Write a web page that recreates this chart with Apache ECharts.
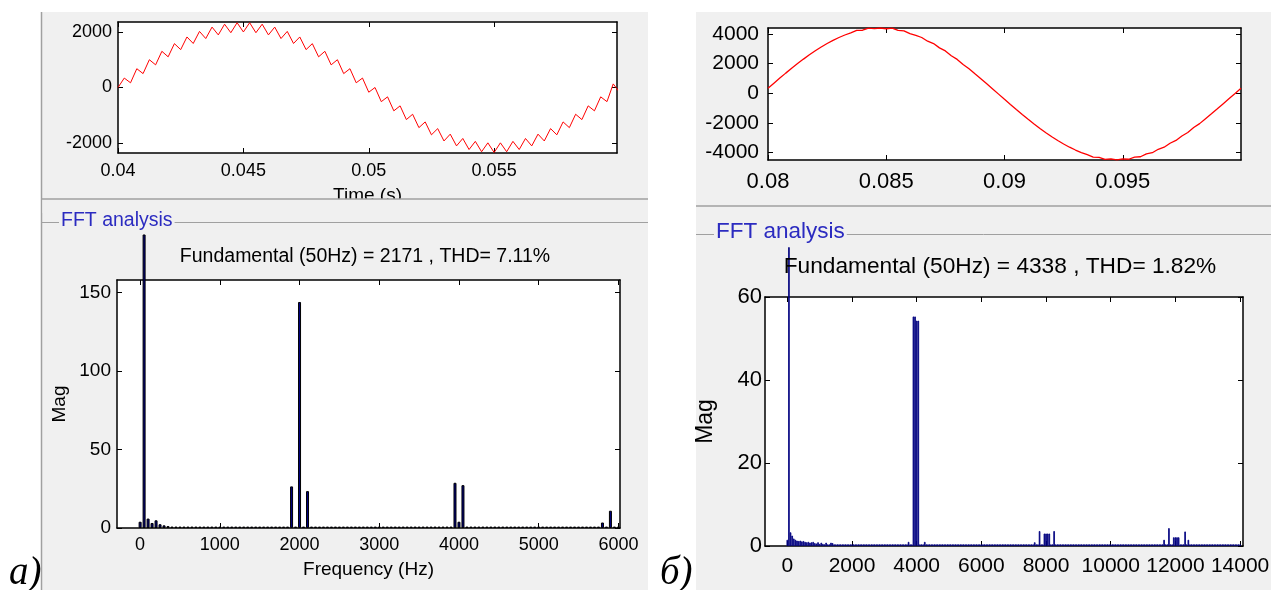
<!DOCTYPE html>
<html><head><meta charset="utf-8">
<script src="https://cdn.jsdelivr.net/npm/echarts@6/dist/echarts.min.js"></script>
<style>html,body{margin:0;padding:0;background:#fff}#c{width:1271px;height:590px}</style>
</head><body><div id="c"></div>
<script>
// ---------------- DATA ----------------
// (a) time waveform: samples every 0.25 ms starting at 0.04 s
const waveA_t0 = 0.04, waveA_dt = 0.00025;
const waveA_values = [
  0, 340, 170, 677, 501, 1001, 816, 1304, 1106, 1580,
  1365, 1821, 1586, 2021, 1764, 2176, 1895, 2281, 1974, 2334,
  2001, 2334, 1974, 2281, 1895, 2176, 1764, 2021, 1586, 1821,
  1365, 1580, 1106, 1304, 816, 1001, 501, 677, 170, 340,
  -170, 0, -510, -337, -841, -661, -1156, -964, -1446, -1240,
  -1705, -1481, -1926, -1681, -2104, -1836, -2235, -1941, -2314, -1994,
  -2341, -1994, -2314, -1941, -2235, -1836, -2104, -1681, -1926, -1481,
  -1705, -1240, -1446, -964, -1156, -661, -841, -337, -510, 130,
  -170
];
// (б) time waveform: samples every 0.25 ms starting at 0.08 s
const waveB_t0 = 0.08, waveB_dt = 0.00025;
const waveB_values = [
  331, 676, 1017, 1351, 1677, 1992, 2295, 2583, 2855, 3109,
  3344, 3558, 3749, 3918, 4062, 4230, 4240, 4380, 4350, 4390,
  4340, 4380, 4230, 4200, 4010, 3897, 3750, 3500, 3340, 3050,
  2845, 2520, 2275, 1935, 1650, 1307, 972, 630, 284, -63,
  -411, -756, -1097, -1431, -1757, -2072, -2375, -2663, -2935, -3189,
  -3424, -3638, -3829, -3998, -4142, -4300, -4330, -4460, -4430, -4490,
  -4420, -4450, -4310, -4280, -4090, -4010, -3780, -3640, -3370, -3180,
  -2880, -2650, -2315, -2050, -1714, -1387, -1052, -710, -364, -17,
  331
];
// FFT magnitudes, one per harmonic, 50 Hz apart starting at 0 Hz
const fftA_step = 50;
const fftA_mag = [
  4, 187, 6, 3.2, 4.9, 2.4, 1.7, 1.2, 0.9, 0.9,
  0.9, 0.9, 0.9, 0.9, 0.9, 0.9, 0.9, 0.9, 0.9, 0.9,
  0.9, 0.9, 0.9, 0.9, 0.9, 0.9, 0.9, 0.9, 0.9, 0.9,
  0.9, 0.9, 0.9, 0.9, 0.9, 0.9, 0.9, 0.9, 26.5, 0.9,
  144, 0.9, 23.5, 0.9, 0.9, 0.9, 0.9, 0.9, 0.9, 0.9,
  0.9, 0.9, 0.9, 0.9, 0.9, 0.9, 0.9, 0.9, 0.9, 0.9,
  0.9, 0.9, 0.9, 0.9, 0.9, 0.9, 0.9, 0.9, 0.9, 0.9,
  0.9, 0.9, 0.9, 0.9, 0.9, 0.9, 0.9, 0.9, 0.9, 28.8,
  4, 27.3, 0.9, 0.9, 0.9, 0.9, 0.9, 0.9, 0.9, 0.9,
  0.9, 0.9, 0.9, 0.9, 0.9, 0.9, 0.9, 0.9, 0.9, 0.9,
  0.9, 0.9, 0.9, 0.9, 0.9, 0.9, 0.9, 0.9, 0.9, 0.9,
  0.9, 0.9, 0.9, 0.9, 0.9, 0.9, 3.5, 0.9, 11, 0.9,
  0.9
];
const fftB_step = 50;
const fftB_mag = [
  1.5, 72, 3.3, 2.5, 1.8, 1.5, 1.3, 1.2, 1.3, 1.1, 1.2, 1.0, 0.9, 1.0, 0.8, 0.9, 1.0, 0.7, 0.6, 0.9,
  0.5, 0.8, 0.5, 0.4, 0.8, 0.4, 0.4, 0.8, 0.7, 0.4, 0.4, 0.4, 0.4, 0.4, 0.4, 0.4, 0.4, 0.4, 0.4, 0.4,
  0.4, 0.4, 0.4, 0.4, 0.4, 0.4, 0.4, 0.4, 0.4, 0.4, 0.4, 0.4, 0.4, 0.4, 0.4, 0.4, 0.4, 0.4, 0.4, 0.4,
  0.4, 0.4, 0.4, 0.4, 0.4, 0.4, 0.4, 0.4, 0.4, 0.4, 0.4, 0.4, 0.4, 0.4, 0.4, 1.0, 0.4, 0.4, 55.3, 55.3,
  54.3, 54.3, 0.4, 0.4, 0.4, 1.0, 0.4, 0.4, 0.4, 0.4, 0.4, 0.4, 0.4, 0.4, 0.4, 0.4, 0.4, 0.4, 0.4, 0.4,
  0.4, 0.4, 0.4, 0.4, 0.4, 0.4, 0.4, 0.4, 0.4, 0.4, 0.4, 0.4, 0.4, 0.4, 0.4, 0.4, 0.4, 0.4, 0.4, 0.4,
  0.4, 0.4, 0.4, 0.4, 0.4, 0.4, 0.4, 0.4, 0.4, 0.4, 0.4, 0.4, 0.4, 0.4, 0.4, 0.4, 0.4, 0.4, 0.4, 0.4,
  0.4, 0.4, 0.4, 0.4, 0.4, 0.4, 0.4, 0.4, 0.4, 0.4, 0.4, 0.4, 0.4, 0.9, 0.4, 0.4, 3.6, 0.4, 0.4, 3.0,
  3.0, 3.0, 3.0, 0.4, 0.4, 3.6, 0.4, 0.4, 0.4, 0.4, 0.4, 0.4, 0.4, 0.4, 0.4, 0.4, 0.4, 0.4, 0.4, 0.4,
  0.4, 0.4, 0.4, 0.4, 0.4, 0.4, 0.4, 0.4, 0.4, 0.4, 0.4, 0.4, 0.4, 0.4, 0.4, 0.4, 0.4, 0.4, 0.4, 0.4,
  0.4, 0.4, 0.4, 0.4, 0.4, 0.4, 0.4, 0.4, 0.4, 0.4, 0.4, 0.4, 0.4, 0.4, 0.4, 0.4, 0.4, 0.4, 0.4, 0.4,
  0.4, 0.4, 0.4, 0.4, 0.4, 0.4, 0.4, 0.4, 0.4, 0.4, 0.4, 0.4, 0.4, 1.5, 0.4, 0.4, 4.3, 0.4, 0.4, 2.1,
  2.1, 2.1, 2.1, 0.4, 0.4, 0.4, 3.5, 0.4, 1.5, 0.4, 0.4, 0.4, 0.4, 0.4, 0.4, 0.4, 0.4, 0.4, 0.4, 0.4,
  0.4, 0.4, 0.4, 0.4, 0.4, 0.4, 0.4, 0.4, 0.4, 0.4, 0.4, 0.4, 0.4, 0.4, 0.4, 0.4, 0.4, 0.4, 0.4, 0.4,
  0.4
];
// tick labels
const ticksA_time = [0.04, 0.045, 0.05, 0.055];
const ticksA_wave = [-2000, 0, 2000];
const ticksA_freq = [0, 1000, 2000, 3000, 4000, 5000, 6000];
const ticksA_mag = [0, 50, 100, 150];
const ticksB_time = [0.08, 0.085, 0.09, 0.095];
const ticksB_wave = [-4000, -2000, 0, 2000, 4000];
const ticksB_freq = [0, 2000, 4000, 6000, 8000, 10000, 12000, 14000];
const ticksB_mag = [0, 20, 40, 60];
// texts
const titleA = 'Fundamental (50Hz) = 2171 , THD= 7.11%';
const titleB = 'Fundamental (50Hz) = 4338 , THD= 1.82%';
const panelTitle = 'FFT analysis';
const labelA = 'а)', labelB = 'б)';

// ---------------- CHART ----------------
const FONT = "'Liberation Sans', Arial, Helvetica, sans-serif";
const SERIF = "'Liberation Serif', 'Times New Roman', serif";
const waveA = waveA_values.map((v, i) => [waveA_t0 + i * waveA_dt, v]);
const waveB = waveB_values.map((v, i) => [waveB_t0 + i * waveB_dt, v]);
const fftA = fftA_mag.map((v, i) => [i * fftA_step, v]);
const fftB = fftB_mag.map((v, i) => [i * fftB_step, v]);

function ax(kind, gi, pos, min, max, ticks, labelOn, fs, margin, name, nameGap, nameFs) {
  const a = {
    type: 'value', gridIndex: gi, position: pos, min: min, max: max,
    axisLine: { show: true, onZero: false, lineStyle: { color: '#000', width: 1.5 } },
    axisTick: { show: true, inside: true, length: 5, customValues: ticks, lineStyle: { color: '#000', width: 1 } },
    axisLabel: { show: labelOn, customValues: ticks, formatter: v => String(v), fontSize: fs, color: '#000', fontFamily: FONT, margin: margin },
    splitLine: { show: false }
  };
  if (name) {
    a.name = name; a.nameLocation = 'middle'; a.nameGap = nameGap;
    a.nameTextStyle = { fontSize: nameFs, color: '#000', fontFamily: FONT };
    if (kind === 'y') a.nameRotate = 90;
  }
  return a;
}

const grids = [
  { left: 118, top: 22, width: 499, height: 131 },
  { left: 117, top: 280, width: 503, height: 248 },
  { left: 768, top: 28, width: 473, height: 132 },
  { left: 765, top: 297, width: 478, height: 249 }
].map(g => Object.assign(g, { show: true, backgroundColor: '#fff', borderWidth: 0, containLabel: false, outerBoundsMode: 'none' }));

const xAxes = [
  ax('x', 0, 'bottom', 0.04, 0.0599, ticksA_time, true, 18, 9, 'Time (s)', 33, 19),
  ax('x', 0, 'top', 0.04, 0.0599, ticksA_time, false),
  ax('x', 1, 'bottom', -290, 6020, ticksA_freq, true, 18, 8, 'Frequency (Hz)', 32, 19),
  ax('x', 1, 'top', -290, 6020, ticksA_freq, false),
  ax('x', 2, 'bottom', 0.08, 0.1, ticksB_time, true, 22, 11),
  ax('x', 2, 'top', 0.08, 0.1, ticksB_time, false),
  ax('x', 3, 'bottom', -690, 14090, ticksB_freq, true, 21, 10),
  ax('x', 3, 'top', -690, 14090, ticksB_freq, false)
];
const yAxes = [
  ax('y', 0, 'left', -2360, 2360, ticksA_wave, true, 18, 6),
  ax('y', 0, 'right', -2360, 2360, ticksA_wave, false),
  ax('y', 1, 'left', 0, 158, ticksA_mag, true, 19, 6, 'Mag', 48, 19),
  ax('y', 1, 'right', 0, 158, ticksA_mag, false),
  ax('y', 2, 'left', -4500, 4390, ticksB_wave, true, 21, 9),
  ax('y', 2, 'right', -4500, 4390, ticksB_wave, false),
  ax('y', 3, 'left', 0, 60, ticksB_mag, true, 22, 3, 'Mag', 48, 23),
  ax('y', 3, 'right', 0, 60, ticksB_mag, false)
];

const G = '#f0f0f0', EDGE = '#a0a0a0';
const graphics = [
  { type: 'rect', z: -100, silent: true, shape: { x: 41, y: 12, width: 607, height: 578 }, style: { fill: G } },
  { type: 'rect', z: -100, silent: true, shape: { x: 696, y: 12, width: 575, height: 578 }, style: { fill: G } },
  { type: 'line', z: -90, silent: true, shape: { x1: 41.5, y1: 12, x2: 41.5, y2: 590 }, style: { stroke: EDGE, lineWidth: 1.5 } },
  // cover under the top panel (hides lower part of the "Time (s)" name)
  { type: 'rect', z: 100, silent: true, shape: { x: 42.5, y: 199, width: 605.5, height: 14 }, style: { fill: G } },
  { type: 'line', z: 101, silent: true, shape: { x1: 42, y1: 199, x2: 648, y2: 199 }, style: { stroke: EDGE, lineWidth: 1.5 } },
  { type: 'line', z: 101, silent: true, shape: { x1: 696, y1: 206, x2: 1271, y2: 206 }, style: { stroke: EDGE, lineWidth: 1.5 } },
  { type: 'line', z: 101, silent: true, shape: { x1: 42, y1: 222.5, x2: 648, y2: 222.5 }, style: { stroke: EDGE, lineWidth: 1 } },
  { type: 'line', z: 101, silent: true, shape: { x1: 696, y1: 234.5, x2: 1271, y2: 234.5 }, style: { stroke: EDGE, lineWidth: 1 } },
  { type: 'text', z: 102, silent: true, x: 59, y: 221, style: { text: panelTitle, fill: '#2b2bc0', fontSize: 19.5, fontFamily: FONT, verticalAlign: 'middle', backgroundColor: G, padding: [0, 2] } },
  { type: 'text', z: 102, silent: true, x: 714, y: 232, style: { text: panelTitle, fill: '#2b2bc0', fontSize: 22.5, fontFamily: FONT, verticalAlign: 'middle', backgroundColor: G, padding: [0, 2] } },
  { type: 'text', z: 5, silent: true, x: 365, y: 257, style: { text: titleA, fill: '#000', fontSize: 19.5, fontFamily: FONT, align: 'center', verticalAlign: 'middle' } },
  { type: 'text', z: 5, silent: true, x: 1000, y: 267, style: { text: titleB, fill: '#000', fontSize: 22.7, fontFamily: FONT, align: 'center', verticalAlign: 'middle' } },
  { type: 'text', z: 5, silent: true, x: 9, y: 574, style: { text: labelA, fill: '#000', fontSize: 39, fontStyle: 'italic', fontFamily: SERIF, align: 'left', verticalAlign: 'middle' } },
  { type: 'text', z: 5, silent: true, x: 660, y: 574, style: { text: labelB, fill: '#000', fontSize: 39, fontStyle: 'italic', fontFamily: SERIF, align: 'left', verticalAlign: 'middle' } }
];

const option = {
  animation: false,
  backgroundColor: '#fff',
  grid: grids,
  xAxis: xAxes,
  yAxis: yAxes,
  graphic: { elements: graphics },
  series: [
    { type: 'line', xAxisIndex: 0, yAxisIndex: 0, data: waveA, symbol: 'none', showSymbol: false, clip: true,
      lineStyle: { color: '#ff0000', width: 1 } },
    { type: 'bar', xAxisIndex: 2, yAxisIndex: 2, data: fftA, barWidth: 3, clip: false,
      itemStyle: { color: '#000080', borderColor: '#000', borderWidth: 1 } },
    { type: 'line', xAxisIndex: 4, yAxisIndex: 4, data: waveB, symbol: 'none', showSymbol: false, clip: true,
      lineStyle: { color: '#ff0000', width: 1.3 } },
    { type: 'bar', xAxisIndex: 6, yAxisIndex: 6, data: fftB, barWidth: 1.6, clip: false,
      itemStyle: { color: '#000080', borderColor: '#000080', borderWidth: 0.8 } }
  ]
};
const chart = echarts.init(document.getElementById('c'), null, { renderer: 'canvas', width: 1271, height: 590 });
chart.setOption(option);
</script></body></html>
